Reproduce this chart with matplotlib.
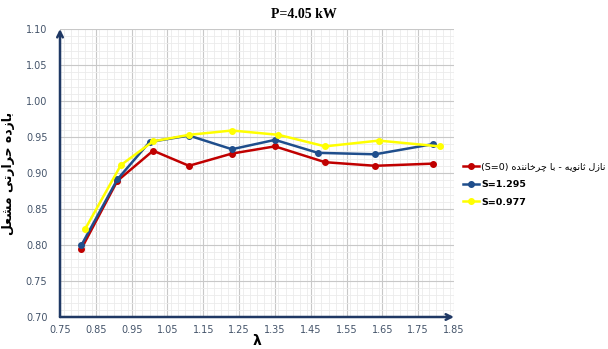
import matplotlib
matplotlib.use('Agg')
import matplotlib.pyplot as plt
from matplotlib.ticker import MultipleLocator

# data
lam_s0 = [0.81, 0.91, 1.01, 1.11, 1.23, 1.35, 1.49, 1.63, 1.79]
eff_s0 = [0.795, 0.889, 0.931, 0.910, 0.927, 0.937, 0.915, 0.910, 0.913]
lam_s1295 = [0.81, 0.91, 1.00, 1.11, 1.23, 1.35, 1.47, 1.63, 1.79]
eff_s1295 = [0.800, 0.891, 0.943, 0.952, 0.933, 0.946, 0.928, 0.926, 0.940]
lam_s0977 = [0.82, 0.92, 1.01, 1.11, 1.23, 1.36, 1.49, 1.64, 1.81]
eff_s0977 = [0.822, 0.911, 0.944, 0.953, 0.959, 0.953, 0.937, 0.945, 0.937]

x_ticks = [0.75, 0.85, 0.95, 1.05, 1.15, 1.25, 1.35, 1.45, 1.55, 1.65, 1.75, 1.85]
y_ticks = [0.70, 0.75, 0.80, 0.85, 0.90, 0.95, 1.00, 1.05, 1.10]

title = 'P=4.05 kW'
ylabel = 'بازده حرارتی مشعل'
label_s0 = 'نازل ثانویه - با چرخاننده'
label_s1295 = 'S=1.295'
label_s0977 = 'S=0.977'

# matplotlib does no arabic shaping, so pick presentation forms by hand
# (isolated, final, initial, medial); two entries = joins on the right only
FORMS = {
    'ا': ('\uFE8D', '\uFE8E'),
    'ب': ('\uFE8F', '\uFE90', '\uFE91', '\uFE92'),
    'ت': ('\uFE95', '\uFE96', '\uFE97', '\uFE98'),
    'ث': ('\uFE99', '\uFE9A', '\uFE9B', '\uFE9C'),
    'ح': ('\uFEA1', '\uFEA2', '\uFEA3', '\uFEA4'),
    'خ': ('\uFEA5', '\uFEA6', '\uFEA7', '\uFEA8'),
    'د': ('\uFEA9', '\uFEAA'),
    'ر': ('\uFEAD', '\uFEAE'),
    'ز': ('\uFEAF', '\uFEB0'),
    'ش': ('\uFEB5', '\uFEB6', '\uFEB7', '\uFEB8'),
    'ع': ('\uFEC9', '\uFECA', '\uFECB', '\uFECC'),
    'ل': ('\uFEDD', '\uFEDE', '\uFEDF', '\uFEE0'),
    'م': ('\uFEE1', '\uFEE2', '\uFEE3', '\uFEE4'),
    'ن': ('\uFEE5', '\uFEE6', '\uFEE7', '\uFEE8'),
    'ه': ('\uFEE9', '\uFEEA', '\uFEEB', '\uFEEC'),
    'و': ('\uFEED', '\uFEEE'),
    'ی': ('\uFEEF', '\uFEF0', '\uFEF3', '\uFEF4'),
    'چ': ('\uFB7A', '\uFB7B', '\uFB7C', '\uFB7D'),
}


def shape(text):
    out = []
    for i, ch in enumerate(text):
        if ch not in FORMS:
            out.append(ch)
            continue
        prev = text[i - 1] if i > 0 else ''
        nxt = text[i + 1] if i + 1 < len(text) else ''
        join_prev = prev in FORMS and len(FORMS[prev]) == 4
        join_next = nxt in FORMS and len(FORMS[ch]) == 4
        f = FORMS[ch]
        if join_prev and join_next:
            out.append(f[3])
        elif join_prev:
            out.append(f[1])
        elif join_next:
            out.append(f[2])
        else:
            out.append(f[0])
    return ''.join(out)[::-1]


navy = '#1F3864'
tick_col = '#44546A'

fig = plt.figure(figsize=(6.08, 3.49), dpi=100)
ax = fig.add_axes([60 / 608, 1 - 317 / 349, 394 / 608, 288 / 349])

ax.plot(lam_s0, eff_s0, color='#C00000', marker='o', markersize=4, linewidth=1.8,
        label='(S=0) ' + shape(label_s0))
ax.plot(lam_s1295, eff_s1295, color='#1F4E8C', marker='o', markersize=4, linewidth=1.8,
        label=label_s1295)
ax.plot(lam_s0977, eff_s0977, color='#FFFF00', marker='o', markersize=4, linewidth=1.8,
        label=label_s0977)

ax.set_xlim(0.75, 1.85)
ax.set_ylim(0.70, 1.10)
ax.set_xticks(x_ticks)
ax.set_yticks(y_ticks)
ax.set_xticklabels(['%.2f' % v for v in x_ticks])
ax.set_yticklabels(['%.2f' % v for v in y_ticks])
ax.xaxis.set_minor_locator(MultipleLocator(0.02))
ax.yaxis.set_minor_locator(MultipleLocator(0.01))
ax.grid(which='major', color='#C8C8C8', linewidth=0.8)
ax.grid(which='minor', color='#EBEBEB', linewidth=0.6)
ax.set_axisbelow(True)
ax.tick_params(which='both', length=0, labelsize=7, labelcolor=tick_col)
ax.tick_params(axis='x', pad=6)
ax.tick_params(axis='y', pad=9)

for s in ax.spines.values():
    s.set_visible(False)
ax.annotate('', xy=(0, 1.0), xytext=(0, 0), xycoords='axes fraction',
            arrowprops=dict(arrowstyle='->', color=navy, lw=1.8, shrinkA=0, shrinkB=0))
ax.annotate('', xy=(1.0, 0), xytext=(0, 0), xycoords='axes fraction',
            arrowprops=dict(arrowstyle='->', color=navy, lw=1.8, shrinkA=0, shrinkB=0))

fig.text(0.5, 1 - 14 / 349, title, ha='center', va='center', fontsize=10,
         fontweight='bold', family='Liberation Serif')
ax.set_xlabel('λ', fontsize=10, fontweight='bold', labelpad=-1)
ax.set_ylabel(shape(ylabel), fontsize=9, fontweight='bold', labelpad=8,
              family='DejaVu Sans')

leg = ax.legend(loc='center left', bbox_to_anchor=(1.0, 0.46), frameon=False,
                handlelength=1.7, handletextpad=0.3, labelspacing=0.9,
                prop={'size': 6.8, 'weight': 'bold'})
leg.get_texts()[0].set_fontweight('normal')

fig.savefig('out.png', dpi=100)
